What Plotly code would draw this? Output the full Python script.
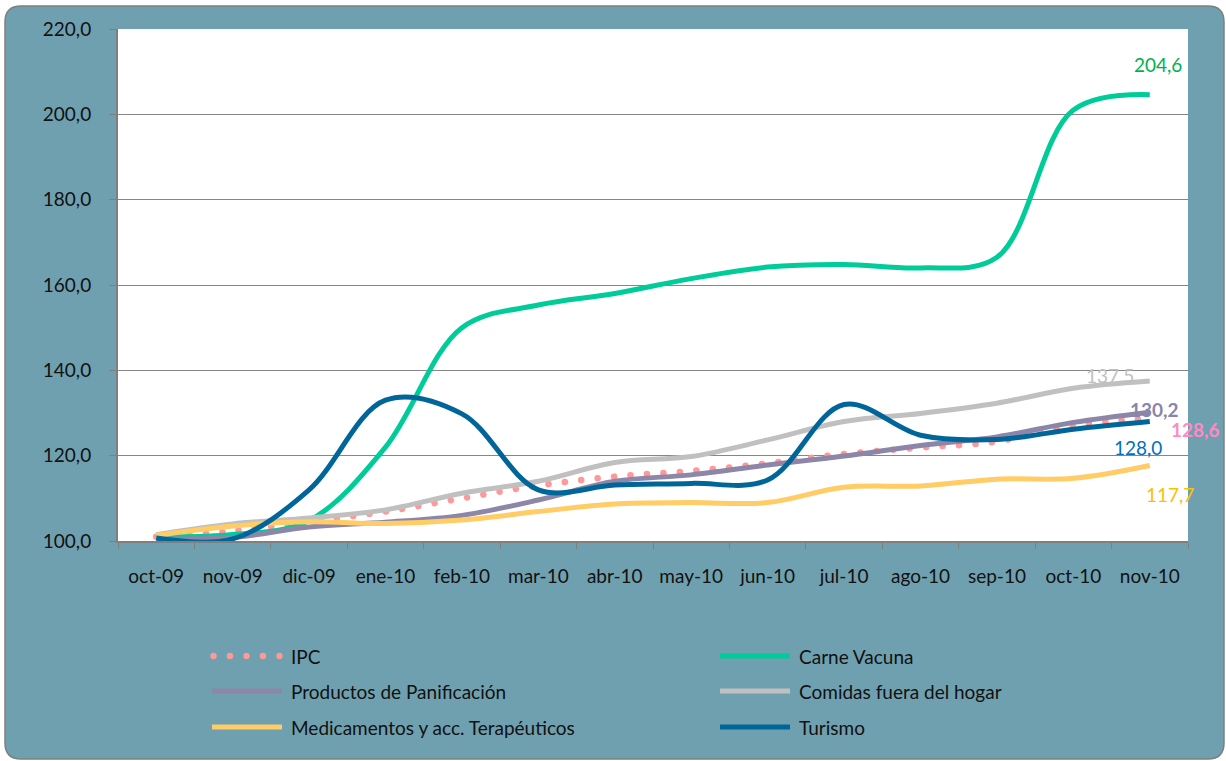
import plotly.graph_objects as go

# data
months = ['oct-09', 'nov-09', 'dic-09', 'ene-10', 'feb-10', 'mar-10', 'abr-10',
          'may-10', 'jun-10', 'jul-10', 'ago-10', 'sep-10', 'oct-10', 'nov-10']
ipc = [101.0, 102.3, 104.6, 106.9, 110.0, 113.0, 115.1, 116.4, 118.2, 120.4, 121.9, 123.3, 127.2, 128.6]
carne = [101.0, 101.5, 104.8, 122.0, 150.0, 155.3, 158.0, 161.5, 164.2, 164.8, 164.0, 166.5, 201.0, 204.6]
productos = [100.5, 100.8, 103.3, 104.4, 106.0, 109.6, 114.0, 115.5, 117.8, 119.9, 122.4, 124.4, 127.8, 130.2]
comidas = [101.5, 104.0, 105.4, 107.3, 111.2, 114.0, 118.4, 119.8, 123.7, 128.0, 129.9, 132.3, 135.8, 137.5]
medicamentos = [101.3, 103.5, 104.5, 104.1, 104.9, 106.9, 108.7, 109.0, 109.0, 112.6, 112.9, 114.5, 114.7, 117.7]
turismo = [100.7, 100.5, 112.0, 133.0, 129.8, 112.0, 113.1, 113.5, 114.3, 132.0, 124.8, 123.8, 126.2, 128.0]

FONT = 'Lato'
FS = 19
W, H = 1226, 761
L, R, T, B = 118, 1188, 29, 541  # plot area in pixels


def px(x):
    return (x - L) / (R - L)


def py(y):
    return (B - y) / (B - T)


# name, values, line colour, label colour, label bold, label shift (x, y)
series = [
    ('IPC', ipc, '#FF9999', '#FF8AC4', True, (46, -11)),
    ('Carne Vacuna', carne, '#00CC99', '#00B050', False, (8, 30)),
    ('Productos de Panificación', productos, '#8C86A8', '#8B84A8', True, (5, 3)),
    ('Comidas fuera del hogar', comidas, '#C0C0C0', '#BFBFBF', False, (-40, 6)),
    ('Medicamentos y acc. Terapéuticos', medicamentos, '#FFCC66', '#FFC000', False, (20, -29)),
    ('Turismo', turismo, '#006699', '#0070C0', False, (-12, -26)),
]

fig = go.Figure()
for name, vals, col, lcol, bold, sh in series:
    if name == 'IPC':
        # tiny dashes, turned into round dots by the linecap set in post_script
        line = dict(color=col, width=6.5, dash='0.1px,16.4px', shape='spline', smoothing=1)
    else:
        line = dict(color=col, width=5, shape='spline', smoothing=1)
    fig.add_trace(go.Scatter(x=months, y=vals, mode='lines', name=name, line=line,
                             showlegend=False, hoverinfo='skip'))

annotations = []
for name, vals, col, lcol, bold, sh in series:
    txt = f'{vals[-1]:.1f}'.replace('.', ',')
    if bold:
        txt = '<b>' + txt + '</b>'
    annotations.append(dict(x=months[-1], y=vals[-1], xref='x', yref='y', text=txt,
                            showarrow=False, xshift=sh[0], yshift=sh[1],
                            font=dict(family=FONT, size=FS, color=lcol)))

# rounded frame behind everything
x0, y0, x1, y1, r = 5, 6, 1224, 759, 16
pts = [('M', (x0 + r, y0)), ('L', (x1 - r, y0)), ('Q', (x1, y0), (x1, y0 + r)),
       ('L', (x1, y1 - r)), ('Q', (x1, y1), (x1 - r, y1)), ('L', (x0 + r, y1)),
       ('Q', (x0, y1), (x0, y1 - r)), ('L', (x0, y0 + r)), ('Q', (x0, y0), (x0 + r, y0))]
path = ''
for p in pts:
    path += p[0] + ' '.join(f'{px(a):.5f},{py(b):.5f}' for a, b in p[1:]) + ' '
path += 'Z'

shapes = [
    dict(type='path', path=path, xref='paper', yref='paper', layer='below',
         fillcolor='#6FA0AF', line=dict(color='#7F7F7F', width=1.5)),
    dict(type='rect', x0=0, x1=1, y0=0, y1=1, xref='paper', yref='paper', layer='below',
         fillcolor='white', line=dict(width=0)),
]

# legend drawn by hand: two columns, three rows
leg_rows = [656, 691, 727]
leg_cols = [212, 720]
for i, (name, vals, col, lcol, bold, sh) in enumerate(series):
    cx = leg_cols[i % 2]
    cy = leg_rows[i // 2]
    if name == 'IPC':
        for k in range(5):
            dx = cx + 1.5 + k * 16.5
            shapes.append(dict(type='circle', xref='paper', yref='paper',
                               x0=px(dx - 3.2), x1=px(dx + 3.2), y0=py(cy + 3.2), y1=py(cy - 3.2),
                               fillcolor=col, line=dict(width=0)))
    else:
        shapes.append(dict(type='line', xref='paper', yref='paper',
                           x0=px(cx), x1=px(cx + 70), y0=py(cy), y1=py(cy),
                           line=dict(color=col, width=5)))
    annotations.append(dict(x=px(cx + 77), y=py(cy), xref='paper', yref='paper', text=name,
                            showarrow=False, xanchor='left', yanchor='middle',
                            font=dict(family=FONT, size=FS, color='#111111')))

fig.update_layout(
    width=W, height=H,
    margin=dict(l=L, r=W - R, t=T, b=H - B, pad=0),
    paper_bgcolor='white', plot_bgcolor='white',
    separators=',.',
    font=dict(family=FONT, size=FS, color='#111111'),
    shapes=shapes, annotations=annotations,
    showlegend=False,
)
fig.update_xaxes(type='category', range=[-0.5, len(months) - 0.5], tickson='boundaries',
                 ticks='outside', ticklen=6, tickcolor='#7F7F7F', showgrid=False,
                 showline=True, linecolor='#7F7F7F', linewidth=2, ticklabelstandoff=17,
                 tickfont=dict(family=FONT, size=FS, color='#111111'))
fig.update_yaxes(range=[100, 220], dtick=20, tickformat='.1f', ticks='outside', ticklen=7,
                 tickcolor='#7F7F7F', showgrid=True, gridcolor='#868686', gridwidth=1,
                 showline=True, linecolor='#7F7F7F', linewidth=2, zeroline=False,
                 ticklabelstandoff=14, tickfont=dict(family=FONT, size=FS, color='#111111'))

js = ("document.body.style.margin='0';"
      "var t=document.querySelector('.scatterlayer .trace');"
      "if(t){t.querySelectorAll('path.js-line').forEach(function(p){p.style.strokeLinecap='round';});}")
fig.write_html('out.html', post_script=js, config={'displayModeBar': False})
